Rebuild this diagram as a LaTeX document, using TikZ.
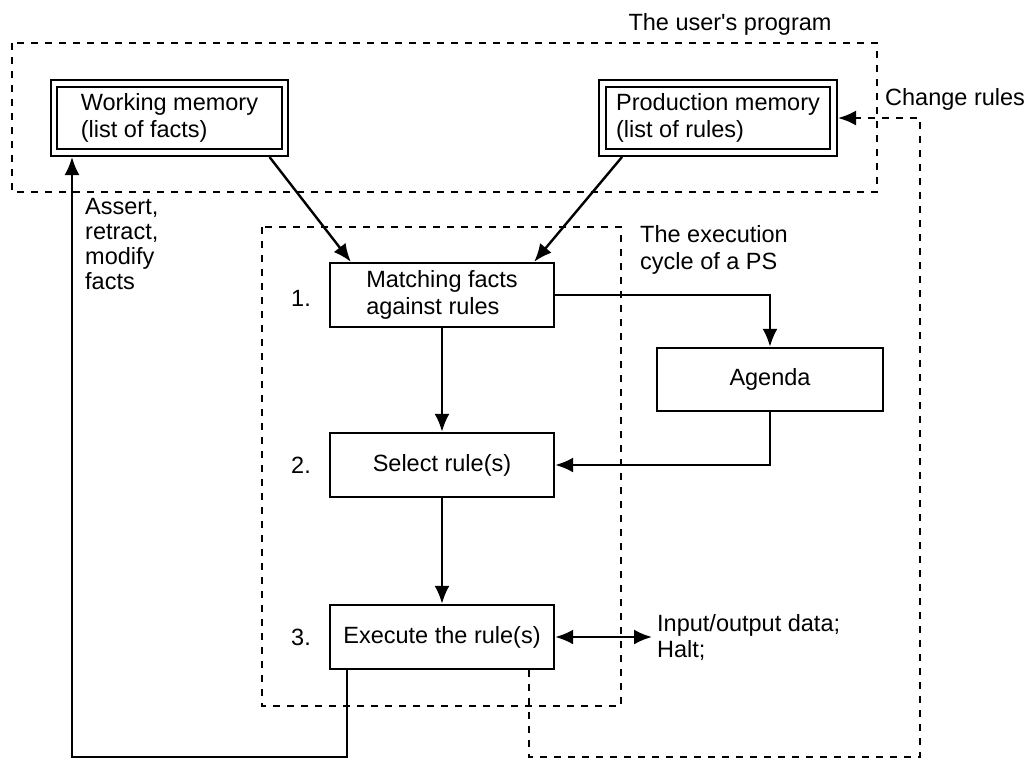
\documentclass[tikz,border=0pt]{standalone}
\usepackage{fontspec}
\setmainfont{Liberation Sans}
\usetikzlibrary{arrows.meta,calc}
\begin{document}
\begin{tikzpicture}[x=1pt,y=-1pt,
  font=\fontsize{23.5}{27}\selectfont,
  every node/.style={inner sep=0pt},
  box/.style={draw,line width=2.4pt,minimum width=224pt,minimum height=64pt,align=left},
  membox/.style={draw,double,double distance=4.5pt,line width=2.2pt,minimum width=231pt,minimum height=69pt,align=left,outer sep=4.5pt},
  tip/.tip={Latex[length=18pt,width=15pt]},
  arr/.style={line width=2.4pt,-tip},
  arrboth/.style={line width=2.4pt,tip-tip},
  dashline/.style={line width=2.4pt,dash pattern=on 7pt off 7pt},
  dasharr/.style={dashline,-tip},
]
\useasboundingbox (0,0) rectangle (1032,761);

% dashed regions
\draw[dashline] (12,43) rectangle (877,192);
\draw[dashline] (262,227) rectangle (621,706);

% main nodes
\node[membox] (wm) at (169.5,118) {Working memory\\(list of facts)};
\node[membox] (pm) at (718,118) {Production memory\\(list of rules)};
\node[box] (match) at (442,295) {Matching facts\\against rules};
\node[box] (select) at (442,465) {Select rule(s)};
\node[box] (exec) at (442,637) {Execute the rule(s)};
\node[box,minimum width=226pt,minimum height=63pt] (agenda) at (770,379.5) {Agenda};

% step numbers
\node (n1) at (301,298) {1.};
\node (n2) at (301,465) {2.};
\node (n3) at (301,637) {3.};

% labels
\node[anchor=base] (up) at (730,30) {The user\textquotesingle s program};
\node[anchor=base west] (cr) at (885,105) {Change rules};
\node[anchor=west,align=left] (ec) at (640,250) {The execution\\cycle of a PS};
\node[anchor=north west,align=left,font=\fontsize{23.5}{25}\selectfont] (as) at (85,198) {Assert,\\retract,\\modify\\facts};
\node[anchor=west,align=left,font=\fontsize{23.5}{26}\selectfont] (io) at (657,637) {Input/output data;\\Halt;};

% connectors
\draw[arr] ($(wm.south east)+(-20,0)$) -- ($(match.north west)+(22,0)$);
\draw[arr] ($(pm.south west)+(24,0)$) -- ($(match.north east)+(-21,0)$);
\draw[arr] (match.east) -| (agenda.north);
\draw[arr] (agenda.south) |- (select.east);
\draw[arr] (match.south) -- (select.north);
\draw[arr] (select.south) -- (exec.north);
\draw[arrboth,shorten >=5pt] (exec.east) -- (io.west);

\coordinate (bl) at (72,757);
\draw[arr] ($(exec.south west)+(18,0)$) |- (bl) -- (bl |- wm.south);

\coordinate (br) at (920,757);
\draw[dasharr] ($(exec.south east)+(-26,0)$) |- (br) -- (br |- pm.east) -- (pm.east);
\end{tikzpicture}
\end{document}
